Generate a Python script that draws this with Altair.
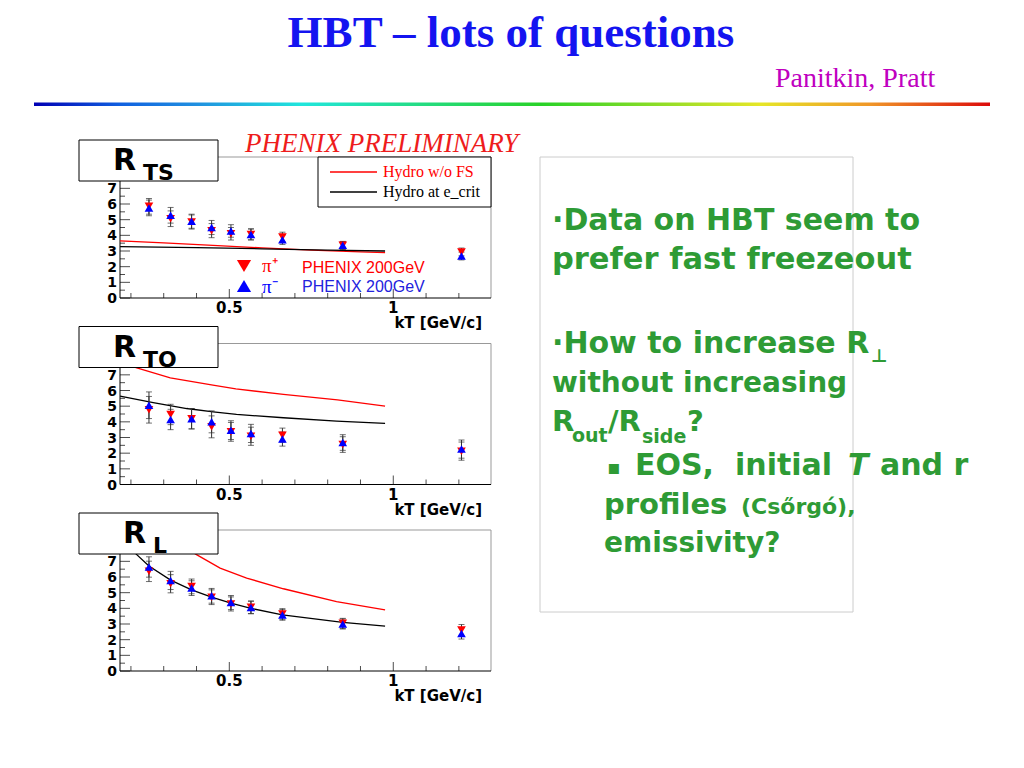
import altair as alt
import pandas as pd

# ---------------- values ----------------
KT = [0.255, 0.321, 0.385, 0.446, 0.505, 0.566, 0.662, 0.846, 1.208]

RTS_PIP = [5.85, 5.06, 4.85, 4.30, 4.10, 4.06, 3.90, 3.36, 2.94]
RTS_PIM = [5.75, 5.28, 4.90, 4.50, 4.28, 4.06, 3.72, 3.36, 2.68]
RTS_ERR = [0.50, 0.50, 0.45, 0.45, 0.40, 0.35, 0.30, 0.25, 0.25]
RTS_RED_X = [0.167, 0.30, 0.45, 0.60, 0.75, 0.90, 0.975]
RTS_RED_Y = [3.65, 3.52, 3.36, 3.20, 3.06, 2.95, 2.90]
RTS_BLK_X = [0.167, 0.40, 0.60, 0.80, 0.975]
RTS_BLK_Y = [3.28, 3.22, 3.14, 3.06, 3.00]

RTO_PIP = [4.77, 4.47, 4.20, 3.68, 3.36, 3.08, 3.15, 2.55, 2.13]
RTO_PIM = [5.06, 4.15, 4.20, 4.00, 3.47, 3.26, 2.90, 2.68, 2.26]
RTO_ERR = [0.85, 0.65, 0.65, 0.70, 0.60, 0.58, 0.45, 0.50, 0.58]
RTO_RED_X = [0.167, 0.218, 0.32, 0.45, 0.52, 0.665, 0.83, 0.975]
RTO_RED_Y = [7.80, 7.45, 6.80, 6.35, 6.10, 5.75, 5.40, 5.00]
RTO_BLK_X = [0.167, 0.268, 0.37, 0.451, 0.522, 0.665, 0.827, 0.975]
RTO_BLK_Y = [5.64, 5.23, 4.85, 4.64, 4.47, 4.26, 4.04, 3.90]

RL_PIP = [6.36, 5.57, 5.40, 4.71, 4.28, 4.07, 3.64, 3.04, 2.61]
RL_PIM = [6.64, 5.78, 5.29, 4.80, 4.37, 4.05, 3.58, 3.00, 2.40]
RL_ERR = [0.65, 0.58, 0.47, 0.47, 0.45, 0.40, 0.34, 0.32, 0.36]
RL_RED_X = [0.33, 0.40, 0.472, 0.553, 0.665, 0.827, 0.975]
RL_RED_Y = [8.40, 7.43, 6.57, 5.93, 5.25, 4.43, 3.90]
RL_BLK_X = [0.167, 0.212, 0.255, 0.321, 0.385, 0.446, 0.505, 0.566, 0.662, 0.846, 0.975]
RL_BLK_Y = [8.60, 7.54, 6.70, 5.80, 5.18, 4.71, 4.33, 4.00, 3.58, 3.10, 2.87]

X_DOMAIN = [0.1667, 1.298]
Y_DOMAIN = [0, 9]
Y_LABELS = [0, 1, 2, 3, 4, 5, 6, 7]
X_LABELS = [0.5, 1.0]
X_LABEL_TEXT = ["0.5", "1"]
Y_MAJOR = [0, 1, 2, 3, 4, 5, 6, 7, 8, 9]
Y_MINOR = [0.5, 1.5, 2.5, 3.5, 4.5, 5.5, 6.5, 7.5, 8.5]
X_MAJOR = [0.5, 1.0]
X_MINOR = [0.2, 0.3, 0.4, 0.6, 0.7, 0.8, 0.9, 1.1, 1.2]

PANEL_SUB = ["TS", "TO", "L"]

# ---------------- layout ----------------
W, H = 1008, 752
X_RANGE = [112, 483]
PANEL_TOP = [149, 335.5, 522]
PANEL_H = 141
DY = [0, 186.5, 373]

SANS_B = "DejaVu Sans"
SERIF = "Liberation Serif"
GREEN = "#2e9b35"

ONE = pd.DataFrame({"k": [0]})


def txt(s, x, y, size, color="black", font=SANS_B, weight="normal", style="normal",
        align="left", baseline="alphabetic"):
    return alt.Chart(ONE).mark_text(
        text=s, fontSize=size, color=color, font=font, fontWeight=weight,
        fontStyle=style, align=align, baseline=baseline
    ).encode(x=alt.value(x), y=alt.value(y))


def box(x0, y0, x1, y1, stroke="black", fill="white", sw=1):
    return alt.Chart(ONE).mark_rect(fill=fill, stroke=stroke, strokeWidth=sw).encode(
        x=alt.value(x0), x2=alt.value(x1), y=alt.value(y0), y2=alt.value(y1))


def seg(x0, x1, y, color, sw=1.3):
    return alt.Chart(ONE).mark_rule(color=color, strokeWidth=sw).encode(
        x=alt.value(x0), x2=alt.value(x1), y=alt.value(y))


def panel(k, pip, pim, err, rx, ry, bx, by):
    top = PANEL_TOP[k]
    bottom = top + PANEL_H
    xs = alt.Scale(domain=X_DOMAIN, range=X_RANGE, nice=False, zero=False)
    ys = alt.Scale(domain=Y_DOMAIN, range=[bottom, top], nice=False, zero=False)

    def X(f):
        return alt.X(f, scale=xs, axis=None)

    def Y(f):
        return alt.Y(f, scale=ys, axis=None)

    frame = pd.DataFrame({"x0": [X_DOMAIN[0]], "x1": [X_DOMAIN[1]],
                          "y0": [Y_DOMAIN[0]], "y1": [Y_DOMAIN[1]]})
    top_rule = alt.Chart(frame).mark_rule(color="#999999").encode(
        x=X("x0:Q"), x2="x1:Q", y=Y("y1:Q"))
    right_rule = alt.Chart(frame).mark_rule(color="#999999").encode(
        x=X("x1:Q"), y=Y("y0:Q"), y2="y1:Q")
    left_axis = alt.Chart(frame).mark_rule(color="black").encode(
        x=X("x0:Q"), y=Y("y0:Q"), y2="y1:Q")
    bottom_axis = alt.Chart(frame).mark_rule(color="black").encode(
        x=X("x0:Q"), x2="x1:Q", y=Y("y0:Q"))

    ylab = pd.DataFrame({"x": [X_DOMAIN[0]] * len(Y_LABELS), "y": Y_LABELS,
                         "t": [str(v) for v in Y_LABELS]})
    xlab = pd.DataFrame({"x": X_LABELS, "y": [Y_DOMAIN[0]] * len(X_LABELS),
                         "t": X_LABEL_TEXT})
    ylabels = alt.Chart(ylab).mark_text(
        align="right", baseline="middle", dx=-3, dy=1, font=SANS_B, fontSize=14,
        fontWeight="bold", color="black").encode(x=X("x:Q"), y=Y("y:Q"), text="t:N")
    xlabels = alt.Chart(xlab).mark_text(
        align="center", baseline="top", dy=3, font=SANS_B, fontSize=15,
        fontWeight="bold", color="black").encode(x=X("x:Q"), y=Y("y:Q"), text="t:N")

    ytm = pd.DataFrame({"x": [X_DOMAIN[0]] * len(Y_MAJOR), "y": Y_MAJOR})
    ytn = pd.DataFrame({"x": [X_DOMAIN[0]] * len(Y_MINOR), "y": Y_MINOR})
    xtm = pd.DataFrame({"x": X_MAJOR, "y": [Y_DOMAIN[0]] * len(X_MAJOR)})
    xtn = pd.DataFrame({"x": X_MINOR, "y": [Y_DOMAIN[0]] * len(X_MINOR)})
    ticks = [
        alt.Chart(ytm).mark_tick(orient="horizontal", size=10, thickness=1, xOffset=5,
                                 color="black").encode(x=X("x:Q"), y=Y("y:Q")),
        alt.Chart(ytn).mark_tick(orient="horizontal", size=5, thickness=1, xOffset=2.5,
                                 color="black").encode(x=X("x:Q"), y=Y("y:Q")),
        alt.Chart(xtm).mark_tick(orient="vertical", size=9, thickness=1, yOffset=-4.5,
                                 color="black").encode(x=X("x:Q"), y=Y("y:Q")),
        alt.Chart(xtn).mark_tick(orient="vertical", size=5, thickness=1, yOffset=-2.5,
                                 color="black").encode(x=X("x:Q"), y=Y("y:Q")),
    ]

    red = alt.Chart(pd.DataFrame({"x": rx, "y": ry})).mark_line(
        color="#ff0000", strokeWidth=1.3).encode(x=X("x:Q"), y=Y("y:Q"))
    blk = alt.Chart(pd.DataFrame({"x": bx, "y": by})).mark_line(
        color="black", strokeWidth=1.3).encode(x=X("x:Q"), y=Y("y:Q"))

    rows = []
    for kt, a, b, e in zip(KT, pip, pim, err):
        rows.append({"kt": kt, "lo": a - e, "hi": a + e})
        rows.append({"kt": kt, "lo": b - e, "hi": b + e})
    ed = pd.DataFrame(rows)
    ebar = alt.Chart(ed).mark_rule(color="#333333", strokeWidth=1).encode(
        x=X("kt:Q"), y=Y("lo:Q"), y2="hi:Q")
    cap_lo = alt.Chart(ed).mark_tick(orient="horizontal", size=6, thickness=1,
                                     color="#333333").encode(x=X("kt:Q"), y=Y("lo:Q"))
    cap_hi = alt.Chart(ed).mark_tick(orient="horizontal", size=6, thickness=1,
                                     color="#333333").encode(x=X("kt:Q"), y=Y("hi:Q"))

    pts = pd.DataFrame({"kt": KT, "pip": pip, "pim": pim})
    p_red = alt.Chart(pts).mark_point(shape="triangle-down", filled=True, size=75,
                                      color="#ff0000", opacity=1).encode(
        x=X("kt:Q"), y=Y("pip:Q"))
    p_blue = alt.Chart(pts).mark_point(shape="triangle-up", filled=True, size=75,
                                       color="#0000ff", opacity=1).encode(
        x=X("kt:Q"), y=Y("pim:Q"))

    return alt.layer(top_rule, right_rule, left_axis, bottom_axis, *ticks,
                     ylabels, xlabels, red, blk, ebar, cap_lo, cap_hi,
                     p_red, p_blue)


p1 = panel(0, RTS_PIP, RTS_PIM, RTS_ERR, RTS_RED_X, RTS_RED_Y, RTS_BLK_X, RTS_BLK_Y)
p2 = panel(1, RTO_PIP, RTO_PIM, RTO_ERR, RTO_RED_X, RTO_RED_Y, RTO_BLK_X, RTO_BLK_Y)
p3 = panel(2, RL_PIP, RL_PIM, RL_ERR, RL_RED_X, RL_RED_Y, RL_BLK_X, RL_BLK_Y)

layers = []

# header
rainbow = alt.Chart(ONE).mark_rect(fill={
    "gradient": "linear", "x1": 0, "x2": 1, "y1": 0, "y2": 0,
    "stops": [
        {"offset": 0.0, "color": "#0000b4"},
        {"offset": 0.09, "color": "#1060e0"},
        {"offset": 0.17, "color": "#2090e0"},
        {"offset": 0.28, "color": "#20e6dc"},
        {"offset": 0.53, "color": "#28d228"},
        {"offset": 0.76, "color": "#e6e628"},
        {"offset": 0.875, "color": "#f09628"},
        {"offset": 1.0, "color": "#dc0a0a"},
    ]}).encode(x=alt.value(26), x2=alt.value(982), y=alt.value(94.5), y2=alt.value(98))
layers += [rainbow,
           txt("HBT – lots of questions", 503, 39, 45, "#1414f0", SERIF, "bold",
               align="center"),
           txt("Panitkin, Pratt", 767, 79, 28, "#c000c0", SERIF)]

# text box on the right
layers += [box(532, 149, 845, 604, stroke="#cccccc", fill="white")]
layers += [
    txt("·Data on HBT seem to", 544, 222, 30, GREEN, weight="bold"),
    txt("prefer fast freezeout", 544, 261, 30.5, GREEN, weight="bold"),
    txt("·How to increase R", 544, 345, 30, GREEN, weight="bold"),
    txt("⊥", 863, 354, 18, GREEN, weight="bold"),
    txt("without increasing", 544, 384, 28, GREEN, weight="bold"),
    txt("R", 544, 423, 29, GREEN, weight="bold"),
    txt("out", 564, 434, 19, GREEN, weight="bold"),
    txt("/R", 600, 423, 29, GREEN, weight="bold"),
    txt("side", 634, 435, 19, GREEN, weight="bold"),
    txt("?", 679, 423, 29, GREEN, weight="bold"),
    txt("▪", 599, 466, 20, GREEN, weight="bold"),
    txt("EOS,", 627, 467, 30, GREEN, weight="bold"),
    txt("initial", 727, 467, 30, GREEN, weight="bold"),
    txt("T", 840, 467, 30, GREEN, weight="bold", style="italic"),
    txt("and r", 872, 467, 30, GREEN, weight="bold"),
    txt("profiles", 596, 506, 29, GREEN, weight="bold"),
    txt("(Csőrgó),", 733, 506, 22, GREEN, weight="bold"),
    txt("emissivity?", 596, 544, 28, GREEN, weight="bold"),
]

# panels
layers += [p1, p2, p3]

# axis titles
for k in range(3):
    bottom = PANEL_TOP[k] + PANEL_H
    layers.append(txt("kT [GeV/c]", 474, bottom + 30, 15, "black", SANS_B, "bold",
                      align="right"))

# panel-1 annotations
layers += [
    txt("PHENIX PRELIMINARY", 237, 144, 27, "#ee1c1c", SERIF, style="italic"),
    box(310, 149, 483, 199),
    seg(322, 369, 164, "#ff0000"),
    seg(322, 369, 184, "black"),
    txt("Hydro w/o FS", 375, 169, 16, "#ff0000", SERIF),
    txt("Hydro at e_crit", 375, 189, 16, "black", SERIF),
    alt.Chart(ONE).mark_point(shape="triangle-down", filled=True, size=200,
                              color="#ff0000", opacity=1).encode(
        x=alt.value(236), y=alt.value(258)),
    alt.Chart(ONE).mark_point(shape="triangle-up", filled=True, size=200,
                              color="#0000ff", opacity=1).encode(
        x=alt.value(236), y=alt.value(278)),
    txt("π⁺", 254, 264, 19, "#ff0000", SERIF),
    txt("π⁻", 254, 285, 19, "#0000ff", SERIF),
    txt("PHENIX 200GeV", 294, 265, 16, "#ff0000", "Liberation Sans"),
    txt("PHENIX 200GeV", 294, 284, 16, "#2222dd", "Liberation Sans"),
]

# panel title boxes
for k, sub in enumerate(PANEL_SUB):
    dy = DY[k]
    rx = 105 if sub != "L" else 115
    layers += [box(71, 132 + dy, 210, 173 + dy),
               txt("R", rx, 162 + dy, 30, "black", SANS_B, "bold"),
               txt(sub, rx + 30, 172 + dy, 22, "black", SANS_B, "bold")]

chart = alt.layer(*layers).resolve_scale(
    x="independent", y="independent"
).properties(
    width=W, height=H, autosize=alt.AutoSizeParams(type="none"), padding=0,
    background="white"
).configure_view(strokeWidth=0)

chart.save("out.html", embed_options={"renderer": "svg", "actions": False})
